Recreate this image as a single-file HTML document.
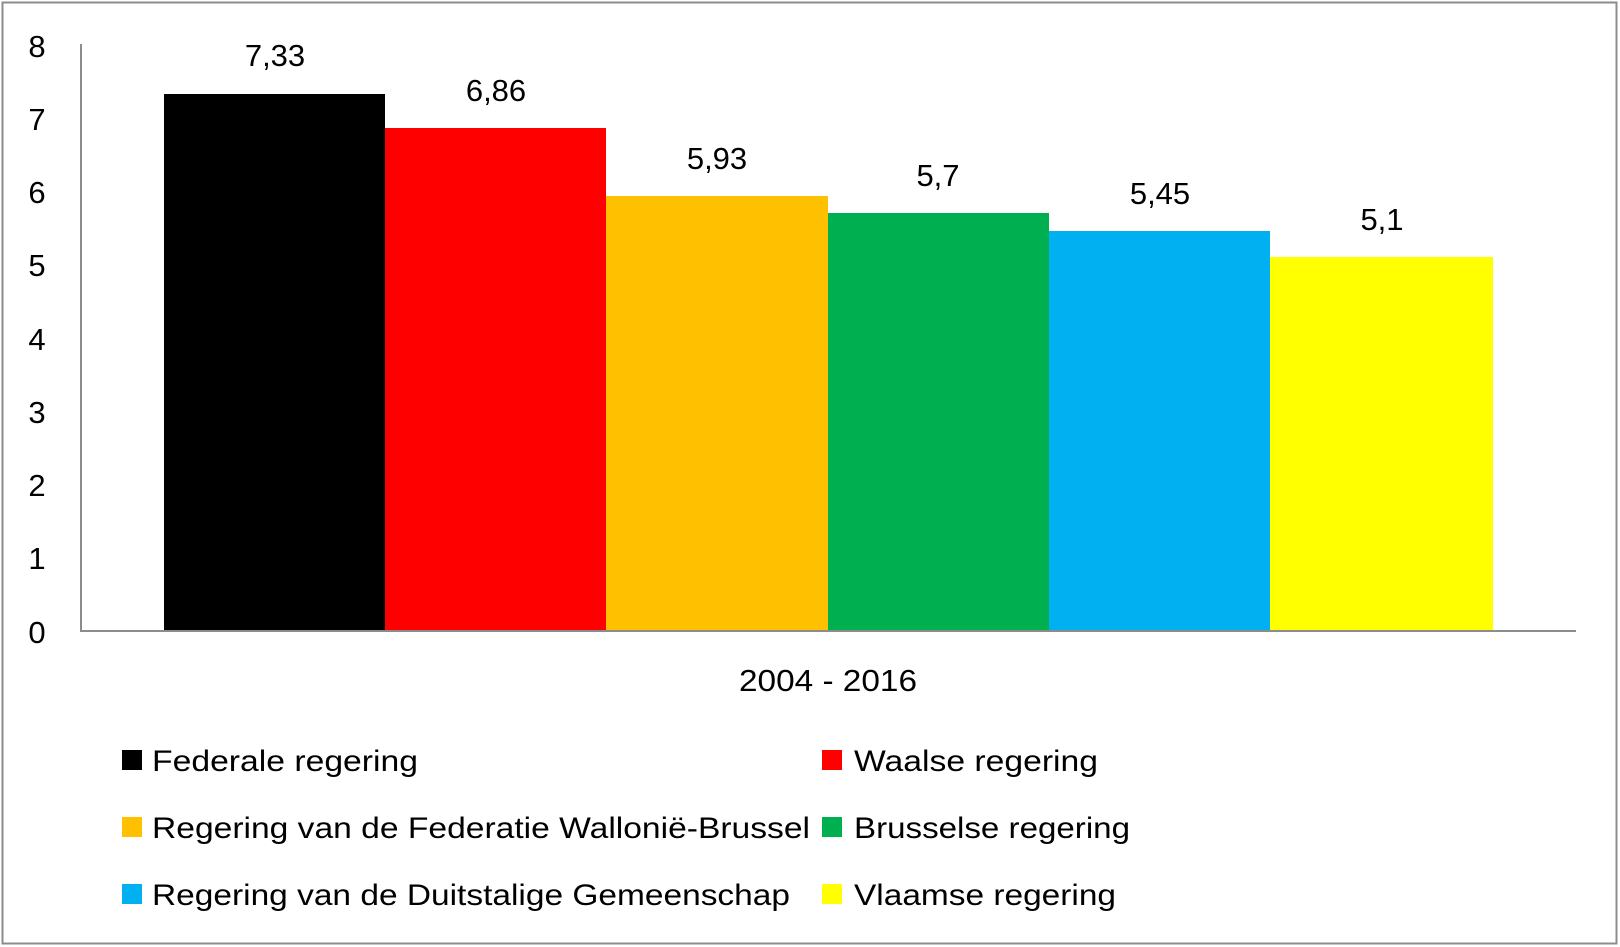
<!DOCTYPE html>
<html><head><meta charset="utf-8"><style>
html,body{margin:0;padding:0;background:#fff}
svg{display:block}
text{font-family:"Liberation Sans",sans-serif;fill:#000}
</style></head><body>
<svg width="1620" height="947" viewBox="0 0 1620 947" xmlns="http://www.w3.org/2000/svg">
<rect x="2.5" y="2.5" width="1614" height="941" fill="#fff" stroke="#8c8c8c" stroke-width="2"/>
<line x1="81" y1="44" x2="81" y2="631" stroke="#8c8c8c" stroke-width="2"/>
<line x1="80" y1="631" x2="1576" y2="631" stroke="#8c8c8c" stroke-width="2"/>
<g font-size="31" text-anchor="middle">
<text x="37" y="57">8</text>
<text x="37" y="130">7</text>
<text x="37" y="203">6</text>
<text x="37" y="276">5</text>
<text x="37" y="350">4</text>
<text x="37" y="423">3</text>
<text x="37" y="496">2</text>
<text x="37" y="569">1</text>
<text x="37" y="643">0</text>
</g>
<rect x="164" y="94" width="221" height="536" fill="#000"/>
<rect x="385" y="128" width="221" height="502" fill="#ff0000"/>
<rect x="606" y="196" width="222" height="434" fill="#ffc000"/>
<rect x="828" y="213" width="221" height="417" fill="#00b050"/>
<rect x="1049" y="231" width="221" height="399" fill="#00b0f0"/>
<rect x="1270" y="257" width="223" height="373" fill="#ffff00"/>
<g font-size="31" text-anchor="middle">
<text x="275" y="66">7,33</text>
<text x="496" y="101">6,86</text>
<text x="717" y="169">5,93</text>
<text x="938" y="186">5,7</text>
<text x="1160" y="204">5,45</text>
<text x="1382" y="230">5,1</text>
<text x="828" y="691" textLength="178" lengthAdjust="spacingAndGlyphs">2004 - 2016</text>
</g>
<g font-size="30">
<rect x="122" y="750" width="20" height="20" fill="#000"/>
<text x="152" y="771" textLength="266" lengthAdjust="spacingAndGlyphs">Federale regering</text>
<rect x="822" y="750" width="20" height="20" fill="#ff0000"/>
<text x="854" y="771" textLength="244" lengthAdjust="spacingAndGlyphs">Waalse regering</text>
<rect x="122" y="817" width="20" height="20" fill="#ffc000"/>
<text x="152" y="838" textLength="658" lengthAdjust="spacingAndGlyphs">Regering van de Federatie Wallonië-Brussel</text>
<rect x="822" y="817" width="20" height="20" fill="#00b050"/>
<text x="854" y="838" textLength="276" lengthAdjust="spacingAndGlyphs">Brusselse regering</text>
<rect x="122" y="884" width="20" height="20" fill="#00b0f0"/>
<text x="152" y="905" textLength="638" lengthAdjust="spacingAndGlyphs">Regering van de Duitstalige Gemeenschap</text>
<rect x="822" y="884" width="20" height="20" fill="#ffff00"/>
<text x="854" y="905" textLength="262" lengthAdjust="spacingAndGlyphs">Vlaamse regering</text>
</g>
</svg>
</body></html>
